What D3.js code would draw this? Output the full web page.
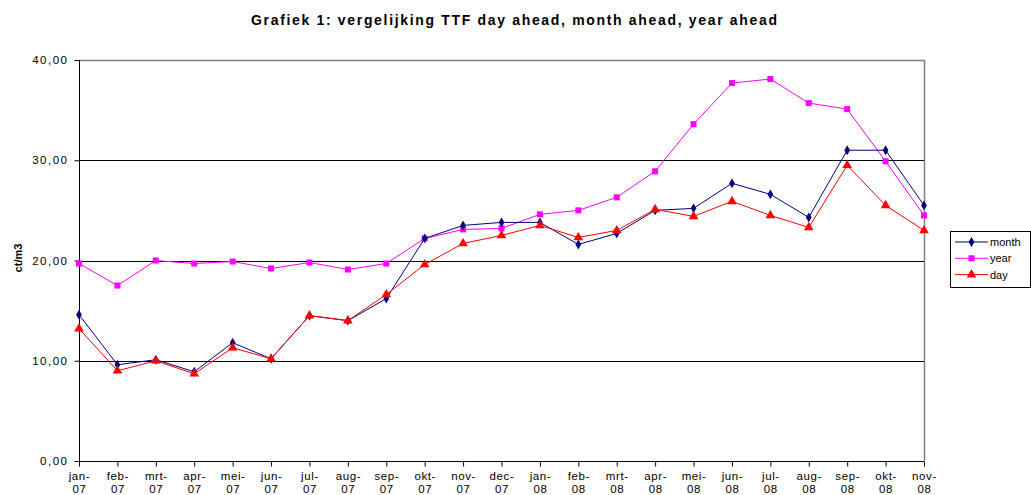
<!DOCTYPE html>
<html><head><meta charset="utf-8">
<script src="https://cdn.jsdelivr.net/npm/d3@7"></script>
<style>body{margin:0;background:#fff}svg{display:block;font-family:"Liberation Sans",Arial,sans-serif}</style>
</head><body><svg id="c" width="1031" height="495"></svg>
<script>
const categories = ["jan-07","feb-07","mrt-07","apr-07","mei-07","jun-07","jul-07","aug-07","sep-07","okt-07","nov-07","dec-07","jan-08","feb-08","mrt-08","apr-08","mei-08","jun-08","jul-08","aug-08","sep-08","okt-08","nov-08"];
const month = [14.6,9.6,10.1,8.9,11.8,10.2,14.5,14.0,16.2,22.2,23.5,23.8,23.8,21.6,22.7,25.0,25.2,27.7,26.6,24.3,31.0,31.0,25.5];
const year  = [19.7,17.5,20.0,19.7,19.9,19.2,19.8,19.1,19.7,22.2,23.1,23.2,24.6,25.0,26.3,28.9,33.6,37.7,38.1,35.7,35.1,29.9,24.5];
const day   = [13.2,9.0,10.0,8.7,11.3,10.2,14.5,14.0,16.6,19.6,21.7,22.5,23.5,22.3,23.0,25.1,24.4,25.9,24.5,23.3,29.5,25.5,23.0];
const yTicks = [0,10,20,30,40];
const seriesNames = ["month","year","day"];

(function(){
const svg = d3.select("#c");
const pl = 79, pr = 924, pt = 60, pb = 461;
const x = d3.scalePoint().domain(categories).range([pl,pr]);
const y = d3.scaleLinear().domain([0,40]).range([pb,pt]);

svg.append("text").attr("x",514).attr("y",25).attr("text-anchor","middle")
  .attr("font-size",14).attr("font-weight","bold")
  .attr("textLength",526).attr("lengthAdjust","spacing")
  .text("Grafiek 1: vergelijking TTF day ahead, month ahead, year ahead");

// plot border (top/right)
svg.append("path").attr("d",`M${pl},${pt+0.5}H${pr+0.5}V${pb}`).attr("fill","none").attr("stroke","#808080").attr("stroke-width",1.5);

// gridlines
svg.append("g").selectAll("line").data(yTicks.filter(d=>d>0 && d<40)).join("line")
  .attr("x1",pl).attr("x2",pr).attr("y1",d=>Math.round(y(d))+0.5).attr("y2",d=>Math.round(y(d))+0.5)
  .attr("stroke","#000").attr("stroke-width",1);

// y axis
const yAxis = svg.append("g").attr("transform",`translate(${pl+0.5},0)`)
  .call(d3.axisLeft(y).tickValues(yTicks).tickSize(5).tickFormat(d=>d3.format(".2f")(d).replace(".",",")));
yAxis.select(".domain").attr("stroke","#000").attr("d",`M0,${pt}V${pb}`);
yAxis.selectAll("text").attr("font-size",11.5).attr("fill","#000").attr("x",-11)
  .attr("letter-spacing",1.5).attr("font-family","Liberation Sans, Arial, sans-serif");

// x axis
const xAxis = svg.append("g").attr("transform",`translate(0,${pb+0.5})`)
  .call(d3.axisBottom(x).tickSize(5).tickFormat(""));
xAxis.select(".domain").attr("d",`M${pl},0H${pr}`).attr("stroke","#000");
xAxis.selectAll(".tick").each(function(d){
  const parts = d.split("-");
  const t = d3.select(this).append("text").attr("fill","#000").attr("font-size",11.5).attr("text-anchor","middle")
    .attr("letter-spacing",0.6).attr("font-family","Liberation Sans, Arial, sans-serif");
  t.append("tspan").attr("x",0).attr("y",18.5).text(parts[0]+"-");
  t.append("tspan").attr("x",0).attr("y",31.5).text(parts[1]);
});

// y label
svg.append("text").attr("transform","translate(22,258) rotate(-90)").attr("text-anchor","middle")
  .attr("font-size",11).attr("font-weight","bold").text("ct/m3");

const series = [
  {name:"month", values:month, color:"#000080", sym:d3.symbolDiamond, size:28},
  {name:"year", values:year, color:"#FF00FF", sym:d3.symbolSquare, size:36},
  {name:"day", values:day, color:"#FF0000", sym:d3.symbolTriangle, size:40}
];
const line = d3.line().x((d,i)=>x(categories[i])).y(d=>y(d));
[series[1],series[0],series[2]].forEach(s=>{
  svg.append("path").datum(s.values).attr("d",line).attr("fill","none").attr("stroke",s.color).attr("stroke-width",1);
  svg.append("g").selectAll("path").data(s.values).join("path")
    .attr("transform",(d,i)=>`translate(${x(categories[i])},${y(d)})`)
    .attr("d",d3.symbol().type(s.sym).size(s.size)).attr("fill",s.color);
});

// legend
const lg = svg.append("g");
lg.append("rect").attr("x",950.5).attr("y",231.5).attr("width",80).attr("height",56).attr("fill","#fff").attr("stroke","#000");
series.forEach((s,i)=>{
  const yy = 242 + i*16.3;
  lg.append("line").attr("x1",955).attr("x2",988).attr("y1",yy).attr("y2",yy).attr("stroke",s.color);
  lg.append("path").attr("transform",`translate(971.5,${yy})`).attr("d",d3.symbol().type(s.sym).size(s.size)).attr("fill",s.color);
  lg.append("text").attr("x",990).attr("y",yy+4).attr("font-size",11).text(seriesNames[i]);
});
})();
</script></body></html>
